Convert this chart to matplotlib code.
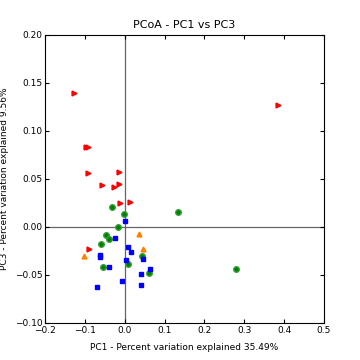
import matplotlib
matplotlib.use("Agg")
import matplotlib.pyplot as plt

red_x = [-0.127, -0.098, -0.093, -0.091, -0.056, -0.027, -0.0135, -0.0135, -0.011, 0.013, -0.089, 0.384]
red_y = [0.140, 0.0830, 0.0837, 0.0566, 0.0438, 0.042, 0.0448, 0.0576, 0.0253, 0.0264, -0.0229, 0.127]

orange_x = [-0.103, 0.035, 0.046]
orange_y = [-0.030, -0.0073, -0.0233]

green_x = [-0.033, -0.002, -0.0176, -0.048, -0.039, -0.060, -0.055, 0.0075, 0.0427, 0.061, 0.133, 0.278]
green_y = [0.0212, 0.0139, 0.0, -0.008, -0.0125, -0.0174, -0.0413, -0.0382, -0.030, -0.0476, 0.016, -0.0434]

blue_x = [0.001, -0.024, 0.0075, 0.016, -0.062, -0.062, 0.0025, 0.046, -0.039, 0.0635, 0.041, -0.007, -0.0695, 0.041]
blue_y = [0.0066, -0.0111, -0.0205, -0.0257, -0.0295, -0.0316, -0.0344, -0.033, -0.0417, -0.0434, -0.049, -0.056, -0.0622, -0.061]

xticks = [-0.2, -0.1, 0.0, 0.1, 0.2, 0.3, 0.4, 0.5]
yticks = [-0.10, -0.05, 0.00, 0.05, 0.10, 0.15, 0.20]

fig = plt.figure(figsize=(3.6, 3.6), dpi=100)
ax = fig.add_axes([0.125, 0.103, 0.775, 0.8])

ax.axhline(0, color='#666666', lw=0.9, zorder=1)
ax.axvline(0, color='#666666', lw=0.9, zorder=1)

ax.plot(red_x, red_y, '>', color='red', mec='red', ms=3.5, ls='none', zorder=3)
ax.plot(orange_x, orange_y, '^', color='#ff8000', mec='#ff8000', ms=3.5, ls='none', zorder=3)
ax.plot(green_x, green_y, 'o', color='#008000', mec='#33a033', ms=4, ls='none', zorder=3)
ax.plot(blue_x, blue_y, 's', color='blue', mec='blue', ms=3.2, ls='none', zorder=3)

ax.set_xlim(-0.2, 0.5)
ax.set_ylim(-0.10, 0.20)
ax.set_xticks(xticks)
ax.set_yticks(yticks)
ax.set_xticklabels(['−0.2', '−0.1', '0.0', '0.1', '0.2', '0.3', '0.4', '0.5'])
ax.set_yticklabels(['−0.10', '−0.05', '0.00', '0.05', '0.10', '0.15', '0.20'])
ax.tick_params(direction='in', length=3, width=0.8, labelsize=6.5, top=True, right=True, pad=2)

ax.set_xlabel('PC1 - Percent variation explained 35.49%', fontsize=6.5, labelpad=6)
ax.set_ylabel('PC3 - Percent variation explained 9.56%', fontsize=6.5, labelpad=4)
ax.set_title('PCoA - PC1 vs PC3', fontsize=8, pad=5)

fig.savefig('out.png', dpi=100)
